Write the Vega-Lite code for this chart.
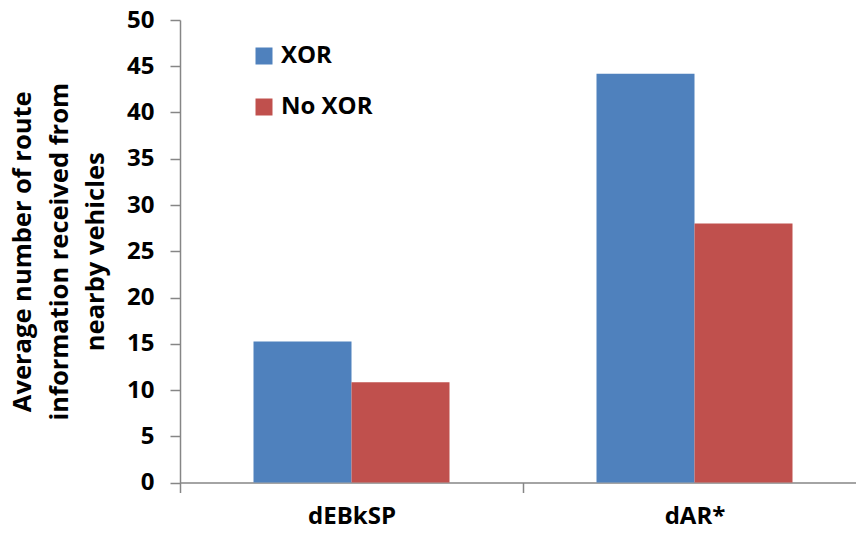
{
  "$schema": "https://vega.github.io/schema/vega-lite/v6.json",
  "autosize": {"type": "none"},
  "padding": {"left": 180, "top": 20, "right": 0, "bottom": 50.5},
  "width": 676,
  "height": 462.5,
  "background": "white",
  "data": {
    "values": [
      {"method": "dEBkSP", "series": "XOR", "value": 15.25},
      {"method": "dEBkSP", "series": "No XOR", "value": 10.83},
      {"method": "dAR*", "series": "XOR", "value": 44.2},
      {"method": "dAR*", "series": "No XOR", "value": 28.0}
    ]
  },
  "config": {
    "view": {"stroke": null},
    "font": "Open Sans",
    "axis": {"grid": false}
  },
  "mark": {"type": "bar"},
  "encoding": {
    "x": {
      "field": "method",
      "type": "nominal",
      "sort": ["dEBkSP", "dAR*"],
      "scale": {"range": [0, 686], "paddingInner": 0, "paddingOuter": 0},
      "axis": {
        "title": null,
        "labelAngle": 0,
        "labelFont": "Open Sans",
        "labelFontWeight": "bold",
        "labelFontSize": 24,
        "labelColor": "black",
        "labelPadding": 12,
        "tickBand": "extent",
        "tickSize": 10,
        "domainColor": "#868686",
        "tickColor": "#868686",
        "domainWidth": 1.5,
        "tickWidth": 1.5
      }
    },
    "xOffset": {
      "field": "series",
      "type": "nominal",
      "sort": ["XOR", "No XOR"],
      "scale": {"paddingInner": 0, "paddingOuter": 0.75}
    },
    "y": {
      "field": "value",
      "type": "quantitative",
      "scale": {"domain": [0, 50], "nice": false},
      "axis": {
        "values": [0, 5, 10, 15, 20, 25, 30, 35, 40, 45, 50],
        "title": ["Average number of route", "information received  from", "nearby vehicles"],
        "titleFont": "Open Sans",
        "titleFontWeight": "bold",
        "titleFontSize": 25.5,
        "titleLineHeight": 36.5,
        "titleColor": "black",
        "titlePadding": 18,
        "labelFont": "Open Sans",
        "labelFontWeight": "bold",
        "labelFontSize": 24,
        "labelColor": "black",
        "labelPadding": 16,
        "tickSize": 10,
        "domainColor": "#868686",
        "tickColor": "#868686",
        "domainWidth": 1.5,
        "tickWidth": 1.5
      }
    },
    "color": {
      "field": "series",
      "type": "nominal",
      "sort": ["XOR", "No XOR"],
      "scale": {"domain": ["XOR", "No XOR"], "range": ["#4F81BD", "#C0504D"]},
      "legend": {
        "title": null,
        "orient": "none",
        "legendX": 72,
        "legendY": 24,
        "symbolType": "square",
        "symbolSize": 289,
        "symbolStrokeWidth": 0,
        "symbolOpacity": 1,
        "labelFont": "Open Sans",
        "labelFontWeight": "bold",
        "labelFontSize": 24,
        "labelColor": "black",
        "labelOffset": 5,
        "rowPadding": 27
      }
    }
  }
}
